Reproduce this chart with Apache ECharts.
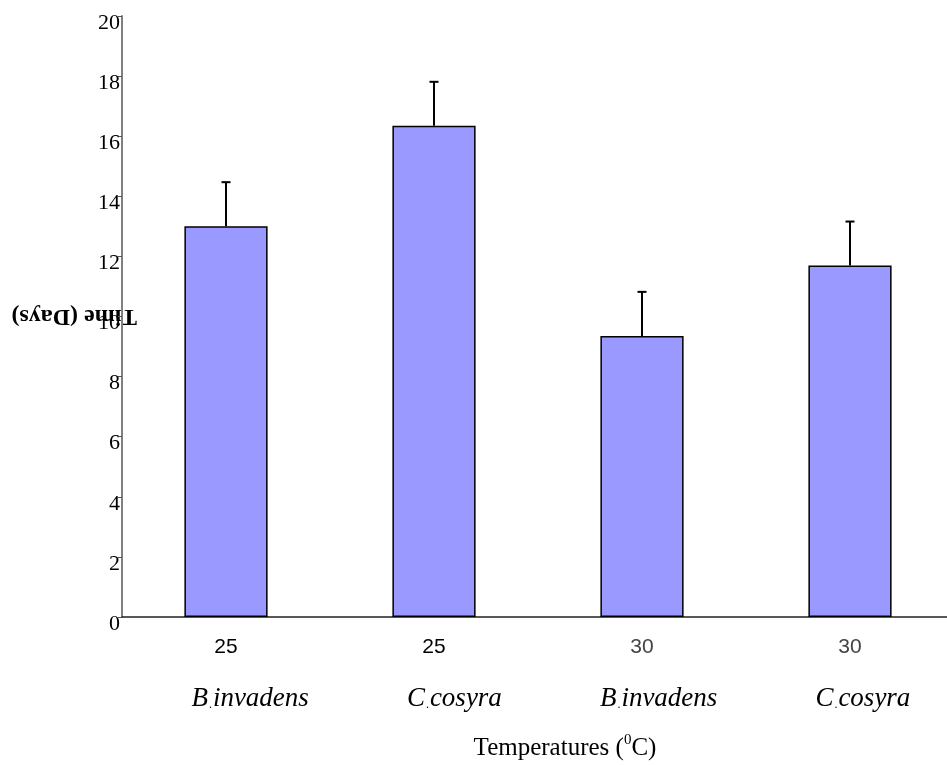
<!DOCTYPE html>
<html>
    <head>
        <meta charset='utf-8'>
        <script src="https://cdn.jsdelivr.net/npm/echarts@6/dist/echarts.min.js"></script>
    </head>
    <body style="margin:0">
        <style>
            html, body, #main {
                width: 947px;
                height: 765px;
                background: #fff;
            }
        </style>
        <div id="main"></div>
        <script>
            // temperature (category) and species per bar
            var temps = ['25', '25', '30', '30'];
            var species = ['B.invadens', 'C.cosyra', 'B.invadens', 'C.cosyra'];
            // mean development time (days) and error (upper bar)
            var means = [13.0, 16.35, 9.35, 11.7];
            var errors = [1.47, 1.46, 1.47, 1.46];

            var chart = echarts.init(document.getElementById('main'));

            var serif = 'Liberation Serif';
            var sans = 'Liberation Sans';

            chart.setOption({
                animation: false,
                grid: [{
                    left: 122,
                    right: -7,
                    top: 16,
                    bottom: 148,
                    containLabel: false,
                    outerBoundsMode: 'none'
                }, {
                    // species names sit slightly right of the bars in the original
                    left: 148,
                    right: -18,
                    top: 16,
                    bottom: 148,
                    containLabel: false,
                    outerBoundsMode: 'none'
                }],
                xAxis: [{
                    type: 'category',
                    data: temps,
                    axisLine: {
                        lineStyle: { color: '#222', width: 1.5 }
                    },
                    axisTick: {
                        length: 5,
                        lineStyle: { color: '#888' }
                    },
                    axisLabel: {
                        margin: 18,
                        formatter: function (value) {
                            return '{' + (value === '30' ? 'g' : 'k') + '|' + value + '}';
                        },
                        rich: {
                            k: { fontFamily: sans, fontSize: 21, color: '#000', lineHeight: 24 },
                            g: { fontFamily: sans, fontSize: 21, color: '#444', lineHeight: 24 }
                        }
                    },
                    name: 'Temperatures ({sup|0}C)',
                    nameLocation: 'middle',
                    nameGap: 116,
                    nameTextStyle: {
                        fontFamily: serif,
                        fontSize: 25,
                        color: '#000',
                        padding: [0, 0, 0, 54],
                        rich: {
                            sup: { fontFamily: serif, fontSize: 15, color: '#000', padding: [0, 0, 16, 0] }
                        }
                    }
                }, {
                    type: 'category',
                    gridIndex: 1,
                    data: species,
                    axisLine: { show: false },
                    axisTick: { show: false },
                    axisLabel: {
                        margin: 67,
                        formatter: function (value) {
                            var parts = value.split('.');
                            return '{s|' + parts[0] + '}{d|.}{s|' + parts[1] + '}';
                        },
                        rich: {
                            s: { fontFamily: serif, fontStyle: 'italic', fontSize: 27, color: '#000', lineHeight: 30 },
                            d: { fontFamily: serif, fontSize: 12, color: '#000', lineHeight: 30, padding: [12, 1, 0, 1] }
                        }
                    }
                }],
                yAxis: [{
                    type: 'value',
                    min: 0,
                    max: 20,
                    interval: 2,
                    axisLine: {
                        show: true,
                        lineStyle: { color: '#808080', width: 2 }
                    },
                    axisTick: {
                        show: true,
                        length: 4,
                        lineStyle: { color: '#555' }
                    },
                    splitLine: { show: false },
                    axisLabel: {
                        margin: 2,
                        fontFamily: serif,
                        fontSize: 22,
                        color: '#000',
                        verticalAlign: 'top',
                        lineHeight: 14
                    },
                    name: 'Time (Days)',
                    nameLocation: 'middle',
                    nameRotate: 180,
                    nameGap: -15,
                    nameMoveOverlap: false,
                    nameTextStyle: {
                        fontFamily: serif,
                        fontWeight: 'bold',
                        fontSize: 24,
                        color: '#000'
                    }
                }, {
                    type: 'value',
                    gridIndex: 1,
                    min: 0,
                    max: 20,
                    show: false
                }],
                series: [{
                    type: 'bar',
                    barWidth: '40%',
                    data: means,
                    itemStyle: {
                        color: '#9999ff',
                        borderColor: '#000',
                        borderWidth: 1.5
                    }
                }, {
                    type: 'custom',
                    z: 5,
                    data: means.map(function (m, i) { return [i, m, errors[i]]; }),
                    encode: { x: 0, y: 1 },
                    renderItem: function (params, api) {
                        var i = api.value(0);
                        var m = api.value(1);
                        var e = api.value(2);
                        var base = api.coord([i, m]);
                        var top = api.coord([i, m + e]);
                        var st = { stroke: '#000', lineWidth: 2 };
                        return {
                            type: 'group',
                            children: [{
                                type: 'line',
                                shape: { x1: base[0], y1: base[1], x2: top[0], y2: top[1] },
                                style: st
                            }, {
                                type: 'line',
                                shape: { x1: top[0] - 4.5, y1: top[1], x2: top[0] + 4.5, y2: top[1] },
                                style: st
                            }]
                        };
                    }
                }]
            });
        </script>
    </body>
</html>
